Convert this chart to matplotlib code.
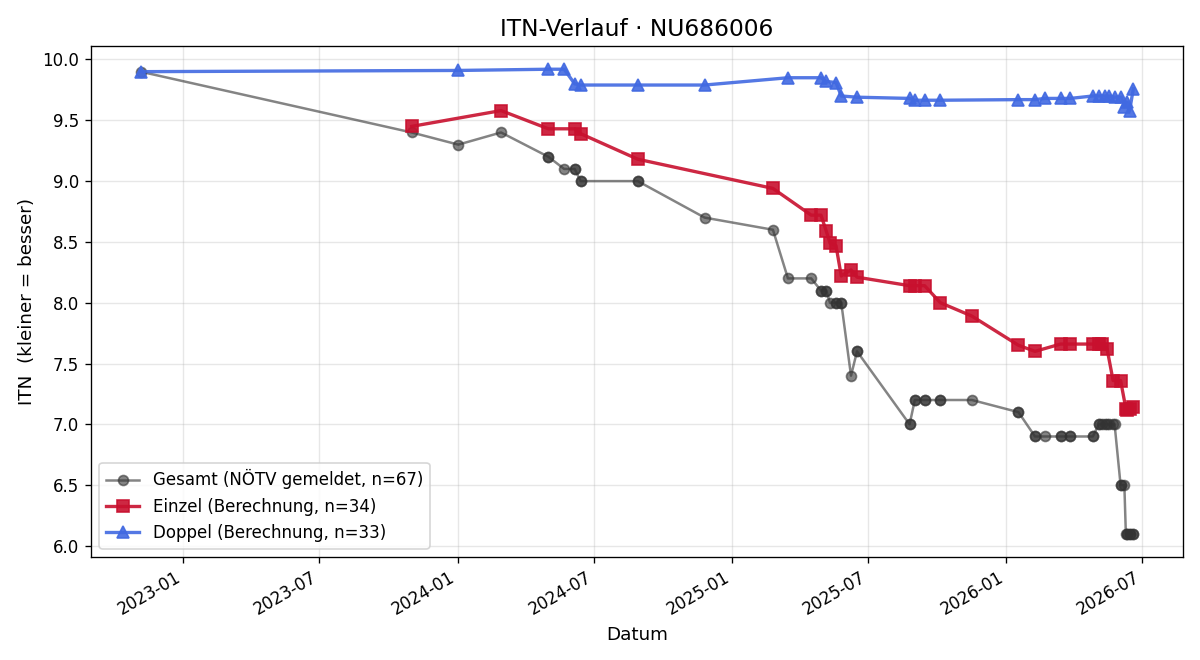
import matplotlib
matplotlib.use("Agg")
import matplotlib.pyplot as plt
import matplotlib.dates as mdates
import pandas as pd

gesamt_dates = [
    "2022-11-05", "2023-11-01", "2024-01-02", "2024-02-28", "2024-05-01", "2024-05-01",
    "2024-05-22", "2024-06-05", "2024-06-05", "2024-06-13", "2024-06-13", "2024-08-28",
    "2024-08-28", "2024-11-25", "2025-02-24", "2025-03-16", "2025-04-16", "2025-04-29",
    "2025-04-29", "2025-05-06", "2025-05-06", "2025-05-11", "2025-05-19", "2025-05-19",
    "2025-05-26", "2025-05-26", "2025-06-08", "2025-06-16", "2025-06-16", "2025-08-25",
    "2025-08-25", "2025-09-01", "2025-09-01", "2025-09-14", "2025-09-14", "2025-10-05",
    "2025-10-05", "2025-11-16", "2026-01-17", "2026-01-17", "2026-02-08", "2026-02-08",
    "2026-02-21", "2026-03-14", "2026-03-14", "2026-03-27", "2026-03-27", "2026-04-26",
    "2026-04-26", "2026-05-04", "2026-05-04", "2026-05-08", "2026-05-12", "2026-05-15",
    "2026-05-17", "2026-05-23", "2026-05-25", "2026-06-02", "2026-06-03", "2026-06-07",
    "2026-06-09", "2026-06-11", "2026-06-11", "2026-06-14", "2026-06-14", "2026-06-19",
    "2026-06-19",
]
gesamt_values = [
    9.9, 9.4, 9.3, 9.4, 9.2, 9.2,
    9.1, 9.1, 9.1, 9.0, 9.0, 9.0,
    9.0, 8.7, 8.6, 8.2, 8.2, 8.1,
    8.1, 8.1, 8.1, 8.0, 8.0, 8.0,
    8.0, 8.0, 7.4, 7.6, 7.6, 7.0,
    7.0, 7.2, 7.2, 7.2, 7.2, 7.2,
    7.2, 7.2, 7.1, 7.1, 6.9, 6.9,
    6.9, 6.9, 6.9, 6.9, 6.9, 6.9,
    6.9, 7.0, 7.0, 7.0, 7.0, 7.0,
    7.0, 7.0, 7.0, 6.5, 6.5, 6.5,
    6.1, 6.1, 6.1, 6.1, 6.1, 6.1,
    6.1,
]

einzel_dates = [
    "2023-11-01", "2024-02-28", "2024-05-01", "2024-06-05", "2024-06-13", "2024-08-28",
    "2025-02-24", "2025-04-16", "2025-04-29", "2025-05-06", "2025-05-11", "2025-05-19",
    "2025-05-26", "2025-06-08", "2025-06-16", "2025-08-25", "2025-09-01", "2025-09-14",
    "2025-10-05", "2025-11-16", "2026-01-17", "2026-02-08", "2026-03-14", "2026-03-27",
    "2026-04-26", "2026-05-04", "2026-05-08", "2026-05-15", "2026-05-23", "2026-06-02",
    "2026-06-09", "2026-06-11", "2026-06-14", "2026-06-19",
]
einzel_values = [
    9.45, 9.58, 9.43, 9.43, 9.39, 9.18,
    8.94, 8.72, 8.72, 8.59, 8.49, 8.47,
    8.22, 8.27, 8.21, 8.14, 8.14, 8.14,
    8.00, 7.89, 7.65, 7.60, 7.66, 7.66,
    7.66, 7.66, 7.66, 7.62, 7.36, 7.36,
    7.13, 7.12, 7.13, 7.14,
]

doppel_dates = [
    "2022-11-05", "2024-01-02", "2024-05-01", "2024-05-22", "2024-06-05", "2024-06-13",
    "2024-08-28", "2024-11-25", "2025-03-16", "2025-04-29", "2025-05-06", "2025-05-19",
    "2025-05-26", "2025-06-16", "2025-08-25", "2025-09-01", "2025-09-14", "2025-10-05",
    "2026-01-17", "2026-02-08", "2026-02-21", "2026-03-14", "2026-03-27", "2026-04-26",
    "2026-05-04", "2026-05-12", "2026-05-17", "2026-05-25", "2026-06-03", "2026-06-07",
    "2026-06-11", "2026-06-14", "2026-06-19",
]
doppel_values = [
    9.90, 9.91, 9.92, 9.92, 9.80, 9.79,
    9.79, 9.79, 9.85, 9.85, 9.82, 9.81,
    9.70, 9.69, 9.68, 9.665, 9.665, 9.665,
    9.67, 9.67, 9.68, 9.68, 9.68, 9.70,
    9.70, 9.70, 9.70, 9.69, 9.69, 9.61,
    9.65, 9.58, 9.76,
]

fig, ax = plt.subplots(figsize=(10, 5.5), dpi=120)

ax.plot(pd.to_datetime(gesamt_dates), gesamt_values, marker="o", markersize=6,
        color="#333333", alpha=0.6, linewidth=1.5,
        label=f"Gesamt (NÖTV gemeldet, n={len(gesamt_values)})")
ax.plot(pd.to_datetime(einzel_dates), einzel_values, marker="s", markersize=7,
        color="#c8102e", alpha=0.9, linewidth=2,
        label=f"Einzel (Berechnung, n={len(einzel_values)})")
ax.plot(pd.to_datetime(doppel_dates), doppel_values, marker="^", markersize=7,
        color="royalblue", alpha=0.9, linewidth=2,
        label=f"Doppel (Berechnung, n={len(doppel_values)})")

ax.set_title("ITN-Verlauf · NU686006", fontsize=14)
ax.set_xlabel("Datum", fontsize=11)
ax.set_ylabel("ITN  (kleiner = besser)", fontsize=11)
ax.grid(True, alpha=0.3)
ax.xaxis.set_major_locator(mdates.MonthLocator(bymonth=[1, 7]))
ax.xaxis.set_major_formatter(mdates.DateFormatter("%Y-%m"))
ax.legend(loc="lower left", fontsize=10)
fig.autofmt_xdate()
fig.subplots_adjust(left=91/1200, right=1183/1200, top=1-46/660, bottom=1-557/660)
fig.savefig("out.png", dpi=120)
